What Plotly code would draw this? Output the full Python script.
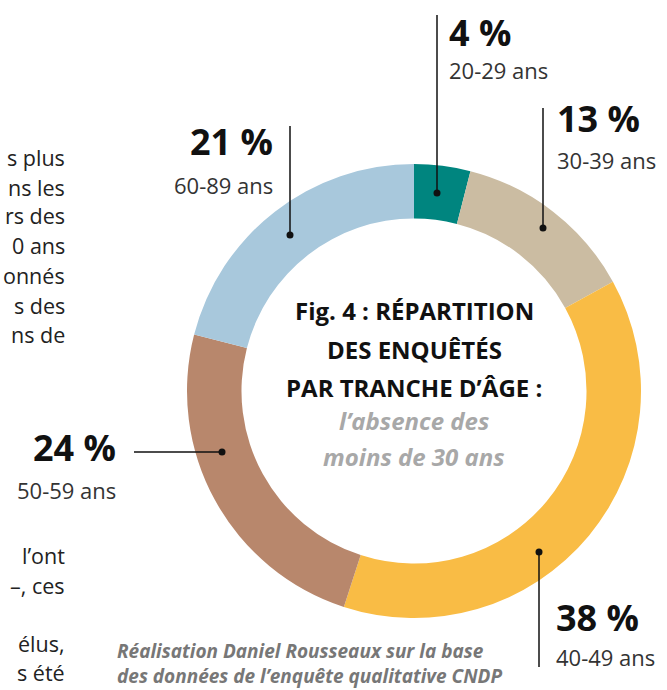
import plotly.graph_objects as go

# ---- data ----
age_groups = ["20-29 ans", "30-39 ans", "40-49 ans", "50-59 ans", "60-89 ans"]
shares = [4, 13, 38, 24, 21]
slice_colors = ["#00857f", "#cbbca2", "#f9bc45", "#b8876c", "#a8c8dc"]
pct_labels = [f"{v} %" for v in shares]

title_lines = ["Fig. 4 : RÉPARTITION", "DES ENQUÊTÉS", "PAR TRANCHE D’ÂGE :"]
subtitle_lines = ["l’absence des", "moins de 30 ans"]
caption_lines = ["Réalisation Daniel Rousseaux sur la base",
                 "des données de l’enquête qualitative CNDP"]
side_text_top = ["s plus", "ns les", "rs des", "0 ans", "onnés", "s des", "ns de"]
side_text_bottom = ["l’ont", "–, ces", "", "élus,", "s été"]

W, H = 667, 690
FONT = "Open Sans"

def px(x):
    return x / W

def py(y):
    return 1 - y / H

cx, cy, R = 414, 391, 227

fig = go.Figure()
fig.add_trace(go.Pie(
    labels=age_groups, values=shares, sort=False, direction="clockwise",
    rotation=0, hole=0.76, textinfo="none", hoverinfo="label+percent",
    marker=dict(colors=slice_colors, line=dict(width=0)),
    domain=dict(x=[px(cx - R), px(cx + R)], y=[py(cy + R), py(cy - R)]),
    showlegend=False,
))

annotations = []
shapes = []

leaders = [
    dict(line=(437, 15, 437, 193), lx=447, ly=(32, 70), anchor="left"),
    dict(line=(543, 108, 543, 228), lx=555, ly=(118, 160), anchor="left"),
    dict(line=(539, 667, 539, 552), lx=554, ly=(617, 657), anchor="left"),
    dict(line=(134, 452, 222, 452), lx=118, ly=(448, 490), anchor="right"),
    dict(line=(290, 126, 290, 235), lx=275, ly=(142, 185), anchor="right"),
]
for i, ld in enumerate(leaders):
    x0, y0, x1, y1 = ld["line"]
    shapes.append(dict(type="line", xref="paper", yref="paper",
                       x0=px(x0), y0=py(y0), x1=px(x1), y1=py(y1),
                       line=dict(color="#111111", width=1.5)))
    r = 3.5
    shapes.append(dict(type="circle", xref="paper", yref="paper",
                       x0=px(x1 - r), x1=px(x1 + r), y0=py(y1 + r), y1=py(y1 - r),
                       fillcolor="#111111", line=dict(width=0)))
    annotations.append(dict(text=f"<b>{pct_labels[i]}</b>", x=px(ld["lx"]), y=py(ld["ly"][0]),
                            xref="paper", yref="paper", xanchor=ld["anchor"], yanchor="middle",
                            showarrow=False, font=dict(family=FONT, size=36, color="#111111")))
    annotations.append(dict(text=age_groups[i], x=px(ld["lx"]), y=py(ld["ly"][1]),
                            xref="paper", yref="paper", xanchor=ld["anchor"], yanchor="middle",
                            showarrow=False, font=dict(family=FONT, size=22, color="#333333")))

for t, y in zip(title_lines, [310, 349, 387]):
    annotations.append(dict(text=f"<b>{t}</b>", x=px(cx), y=py(y), xref="paper", yref="paper",
                            xanchor="center", yanchor="middle", showarrow=False,
                            font=dict(family=FONT, size=24, color="#111111")))
for t, y in zip(subtitle_lines, [420, 456]):
    annotations.append(dict(text=f"<b><i>{t}</i></b>", x=px(cx), y=py(y), xref="paper", yref="paper",
                            xanchor="center", yanchor="middle", showarrow=False,
                            font=dict(family=FONT, size=24, color="#a8a8a8")))

for t, y in zip(caption_lines, [651, 676]):
    annotations.append(dict(text=f"<b><i>{t}</i></b>", x=px(115), y=py(y), xref="paper", yref="paper",
                            xanchor="left", yanchor="middle", showarrow=False,
                            font=dict(family=FONT, size=19, color="#777777")))

for t, y in zip(side_text_top, [158, 187, 216, 246, 275, 305, 334]):
    annotations.append(dict(text=t, x=px(67), y=py(y), xref="paper", yref="paper",
                            xanchor="right", yanchor="middle", showarrow=False,
                            font=dict(family=FONT, size=21.5, color="#222222")))
for t, y in zip(side_text_bottom, [555, 585, 614, 643, 672]):
    if t:
        annotations.append(dict(text=t, x=px(67), y=py(y), xref="paper", yref="paper",
                                xanchor="right", yanchor="middle", showarrow=False,
                                font=dict(family=FONT, size=21.5, color="#222222")))

fig.update_layout(
    width=W, height=H, margin=dict(l=0, r=0, t=0, b=0),
    paper_bgcolor="white", plot_bgcolor="white",
    annotations=annotations, shapes=shapes,
)
fig.write_html("out.html", config={"displayModeBar": False},
               post_script="document.body.style.margin='0px';")
